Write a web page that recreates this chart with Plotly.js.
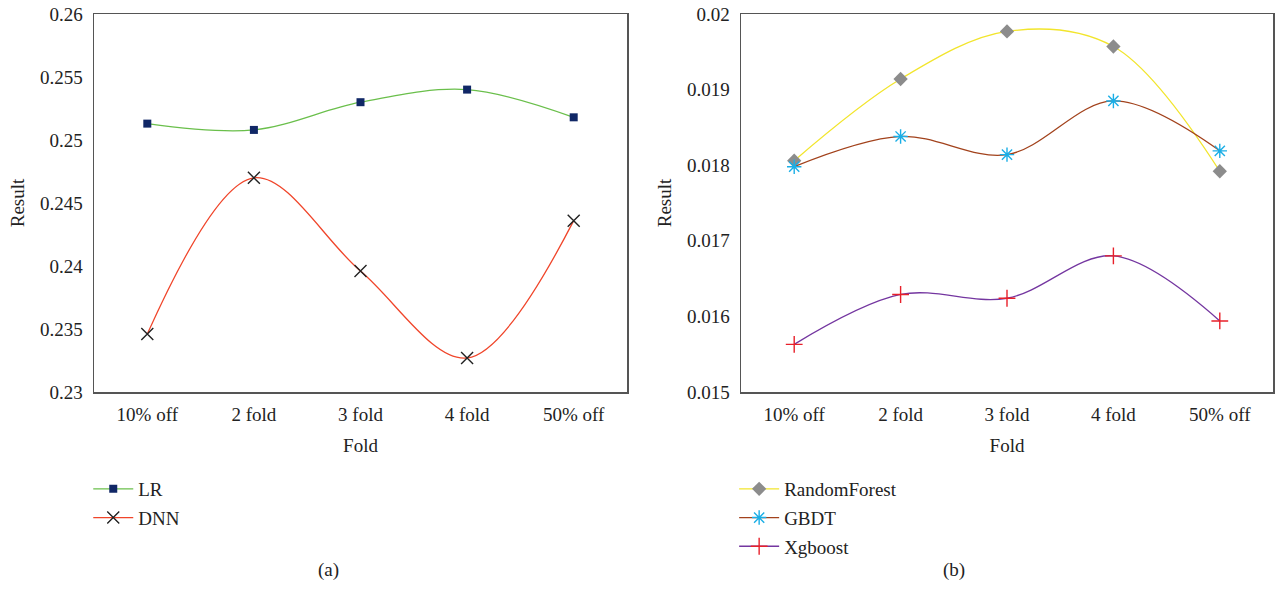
<!DOCTYPE html>
<html>
<head>
<meta charset="utf-8">
<script src="https://cdn.plot.ly/plotly-3.0.1.min.js"></script>
<style>html,body{margin:0;padding:0;background:#fff;}#chart{width:1279px;height:601px;}</style>
</head>
<body>
<div id="chart"></div>
<script>
const folds = ["10% off", "2 fold", "3 fold", "4 fold", "50% off"];
const lr = [0.2513, 0.2508, 0.2530, 0.2540, 0.2518];
const dnn = [0.2346, 0.2470, 0.2396, 0.2327, 0.2436];
const randomForest = [0.01806, 0.01914, 0.01977, 0.01957, 0.01792];
const gbdt = [0.01798, 0.01838, 0.01814, 0.01885, 0.01819];
const xgboost = [0.01563, 0.01629, 0.01624, 0.01680, 0.01594];
const leftTicks = [0.23, 0.235, 0.24, 0.245, 0.25, 0.255, 0.26];
const leftTickText = ["0.23", "0.235", "0.24", "0.245", "0.25", "0.255", "0.26"];
const rightTicks = [0.015, 0.016, 0.017, 0.018, 0.019, 0.02];
const rightTickText = ["0.015", "0.016", "0.017", "0.018", "0.019", "0.02"];

const FONT = "Liberation Serif";

function tr(name, y, xa, ya, lg, lineColor, sym, mColor, mSize, open) {
  const marker = {symbol: sym, size: mSize, color: mColor};
  if (open) marker.line = {color: mColor, width: 1.4};
  return {
    x: folds, y: y, name: name, xaxis: xa, yaxis: ya, legend: lg, legendgroup: name,
    type: "scatter", mode: "lines+markers",
    line: {shape: "spline", smoothing: 1, color: lineColor, width: 1.3},
    marker: marker
  };
}

const data = [
  tr("LR", lr, "x", "y", "legend", "#6abf4b", "square", "#102766", 8, false),
  tr("DNN", dnn, "x", "y", "legend", "#f0452a", "x-thin-open", "#222222", 12, true),
  tr("RandomForest", randomForest, "x2", "y2", "legend2", "#f2e52c", "diamond", "#8c8c8c", 11, false),
  tr("GBDT", gbdt, "x2", "y2", "legend2", "#a2421c", "asterisk-open", "#1aaee6", 12, true),
  tr("Xgboost", xgboost, "x2", "y2", "legend2", "#7436a0", "cross-thin-open", "#e8202a", 12, true)
];

const axisCommon = {
  showline: true, mirror: true, linecolor: "#555", linewidth: 1.5,
  showgrid: false, zeroline: false, ticks: "", automargin: false,
  tickfont: {family: FONT, size: 19, color: "#222"}
};

function xAxis(domain, anchor) {
  return Object.assign({}, axisCommon, {
    domain: domain, anchor: anchor, type: "category", range: [-0.5, 4.5],
    ticklabelstandoff: 5,
    title: {text: "Fold", font: {family: FONT, size: 19, color: "#222"}, standoff: 14}
  });
}
function yAxis(domain, anchor, range, tv, tt) {
  return Object.assign({}, axisCommon, {
    domain: domain, anchor: anchor, range: range, tickvals: tv, ticktext: tt,
    ticklabelstandoff: 6,
    title: {text: "Result", font: {family: FONT, size: 19, color: "#222"}, standoff: 10}
  });
}

const yDom = [1 - 392/601, 1 - 14/601];
const legendCommon = {xanchor: "left", yanchor: "top", bgcolor: "rgba(0,0,0,0)",
  font: {family: FONT, size: 19, color: "#222"}, tracegroupgap: 1, traceorder: "grouped", itemwidth: 40};
const layout = {
  width: 1279, height: 601,
  margin: {l: 0, r: 0, t: 0, b: 0},
  paper_bgcolor: "#fff", plot_bgcolor: "#fff",
  font: {family: FONT, size: 19, color: "#222"},
  xaxis: xAxis([94/1279, 627/1279], "y"),
  yaxis: yAxis(yDom, "x", [0.23, 0.26], leftTicks, leftTickText),
  xaxis2: xAxis([741/1279, 1273/1279], "y2"),
  yaxis2: yAxis(yDom, "x2", [0.015, 0.02], rightTicks, rightTickText),
  legend: Object.assign({x: 0.069, y: 0.218}, legendCommon),
  legend2: Object.assign({x: 0.574, y: 0.218}, legendCommon),
  annotations: [
    {text: "(a)", x: 316/1279, y: 1 - 583/601, xref: "paper", yref: "paper", showarrow: false,
     font: {family: FONT, size: 19, color: "#222"}},
    {text: "(b)", x: 967/1279, y: 1 - 583/601, xref: "paper", yref: "paper", showarrow: false,
     font: {family: FONT, size: 19, color: "#222"}}
  ]
};

Plotly.newPlot("chart", data, layout, {displayModeBar: false, staticPlot: true});
</script>
</body>
</html>
